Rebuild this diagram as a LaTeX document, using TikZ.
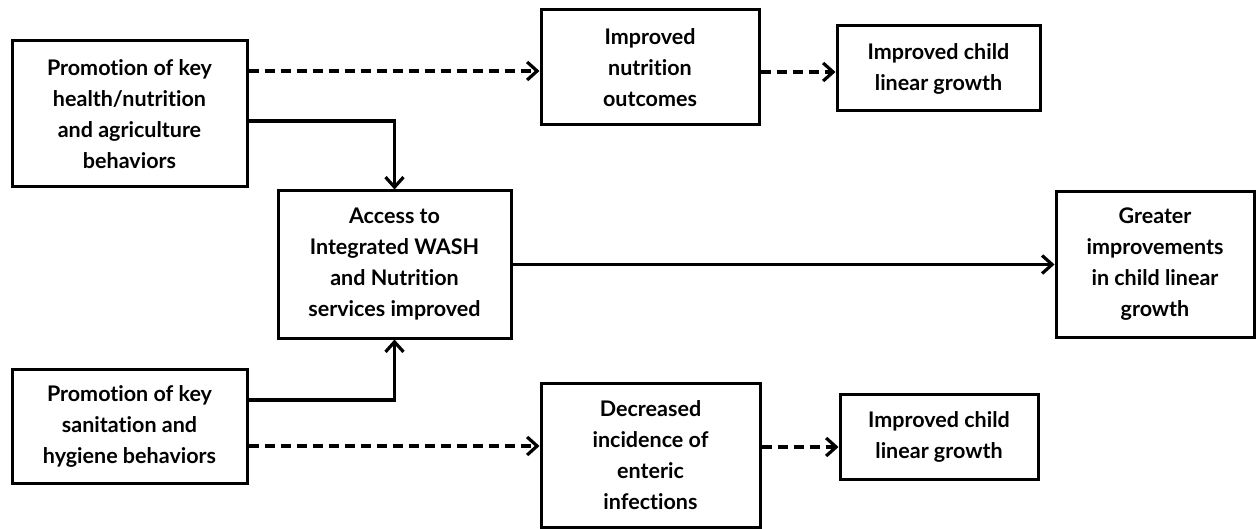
\documentclass[tikz,border=0pt]{standalone}
\usepackage{fontspec}
\setmainfont{Lato}[Ligatures=NoCommon]
\usetikzlibrary{arrows.meta}
\begin{document}
\begin{tikzpicture}[x=1pt,y=-1pt,
  box/.style={draw=black,line width=3pt,fill=white,inner sep=0pt,align=center,
    font=\bfseries\fontsize{21.5}{31}\selectfont},
  conn/.style={line width=3.8pt,-{Straight Barb[length=10pt,width=18pt,line width=3.2pt]}},
  dconn/.style={conn,dash pattern=on 10pt off 6pt}]
\useasboundingbox[fill=white] (0,0) rectangle (1257,529);
\node[box,minimum width=235pt,minimum height=146pt] (A) at (129.5,114) {Promotion of key\\health/nutrition\\and agriculture\\behaviors};
\node[box,minimum width=218pt,minimum height=115pt] (B) at (650,67.5) {Improved\\nutrition\\outcomes};
\node[box,minimum width=203pt,minimum height=85pt] (C) at (938.5,68.5) {Improved child\\linear growth};
\node[box,minimum width=233pt,minimum height=147pt] (D) at (394.5,264.5) {Access to\\Integrated WASH\\and Nutrition\\services improved};
\node[box,minimum width=198pt,minimum height=145pt] (E) at (1155,264.5) {Greater\\improvements\\in child linear\\growth};
\node[box,minimum width=235pt,minimum height=114pt] (F) at (129.5,426) {Promotion of key\\sanitation and\\hygiene behaviors};
\node[box,minimum width=219pt,minimum height=144pt] (G) at (650.5,455) {Decreased\\incidence of\\enteric\\infections};
\node[box,minimum width=198pt,minimum height=85pt] (H) at (939,436.5) {Improved child\\linear growth};
\coordinate (a1) at ([yshift=43pt]A.east);
\coordinate (a2) at ([yshift=-7pt]A.east);
\coordinate (b1) at ([yshift=-4.5pt]B.east);
\coordinate (f1) at ([yshift=26pt]F.east);
\coordinate (f2) at ([yshift=-20pt]F.east);
\coordinate (g1) at ([yshift=8pt]G.east);
\draw[dconn] (a1) -- (B.west |- a1);
\draw[dconn] (b1) -- (C.west |- b1);
\draw[conn] (a2) -| (D.north);
\draw[conn] (f1) -| (D.south);
\draw[dconn] (f2) -- (G.west |- f2);
\draw[dconn] (g1) -- (H.west |- g1);
\draw[conn] (D.east) -- (E.west);
\end{tikzpicture}
\end{document}
